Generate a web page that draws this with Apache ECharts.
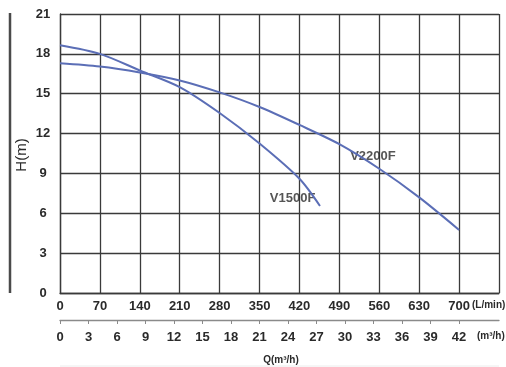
<!DOCTYPE html>
<html>
<head>
<meta charset="utf-8">
<script src="https://cdn.jsdelivr.net/npm/echarts@6/dist/echarts.min.js"></script>
<style>
html,body{margin:0;padding:0;background:#fff;}
#c{width:506px;height:367px;}
</style>
</head>
<body>
<div id="c"></div>
<script>
// Flow in L/min, head in m
const v1500fFlow = [0, 70, 140, 210, 280, 350, 420, 456];
const v1500fHead = [18.65, 18.0, 16.75, 15.5, 13.55, 11.25, 8.6, 6.55];
const v2200fFlow = [0, 70, 140, 210, 280, 350, 420, 490, 560, 630, 700];
const v2200fHead = [17.3, 17.05, 16.6, 16.0, 15.1, 14.0, 12.65, 11.2, 9.35, 7.2, 4.75];
const flowTicksLmin = [0, 70, 140, 210, 280, 350, 420, 490, 560, 630, 700];
const flowTicksM3h = [0, 3, 6, 9, 12, 15, 18, 21, 24, 27, 30, 33, 36, 39, 42];
const headTicks = [0, 3, 6, 9, 12, 15, 18, 21];
const curveNames = ['V1500F', 'V2200F'];
const curveLabelPos = [[368, 7.15], [509, 10.3]];

const lminMax = 770;
const m3hMax = lminMax * 60 / 1000;

const pair = (xs, ys) => xs.map((x, i) => [x, ys[i]]);
const lineColor = '#5b6eb6';
const txt = '#2a2a2a';
const font = 'Liberation Sans, Arial, sans-serif';

const chart = echarts.init(document.getElementById('c'), null, {renderer: 'canvas'});
chart.setOption({
  animation: false,
  backgroundColor: '#fff',
  grid: {left: 60, right: 7, top: 14, bottom: 74, containLabel: false},
  xAxis: [{
    type: 'value', min: 0, max: lminMax, interval: 70,
    axisLine: {show: true, lineStyle: {color: '#3a3a3a', width: 1.3}},
    axisTick: {show: false},
    splitLine: {show: true, lineStyle: {color: '#3a3a3a', width: 1.3}},
    axisLabel: {
      margin: 7, color: txt, fontSize: 13, fontWeight: 'bold', fontFamily: font,
      customValues: flowTicksLmin
    }
  }, {
    type: 'value', position: 'bottom', offset: 27, min: 0, max: m3hMax,
    axisLine: {show: true, lineStyle: {color: '#8a8a8a', width: 1.3}},
    axisTick: {show: true, length: 4, inside: false, lineStyle: {color: '#8a8a8a'}, customValues: flowTicksM3h},
    splitLine: {show: false},
    axisLabel: {
      margin: 11, color: txt, fontSize: 13, fontWeight: 'bold', fontFamily: font,
      customValues: flowTicksM3h
    }
  }],
  yAxis: {
    type: 'value', min: 0, max: 21, interval: 3,
    axisLine: {show: true, lineStyle: {color: '#3a3a3a', width: 1.3}},
    axisTick: {show: false},
    splitLine: {show: true, lineStyle: {color: '#3a3a3a', width: 1.3}},
    axisLabel: {
      margin: 17, align: 'center', color: txt, fontSize: 13, fontWeight: 'bold', fontFamily: font,
      customValues: headTicks
    }
  },
  series: [{
    name: curveNames[0], type: 'line', smooth: 0.3, showSymbol: false,
    xAxisIndex: 0,
    lineStyle: {color: lineColor, width: 2},
    data: pair(v1500fFlow, v1500fHead)
  }, {
    name: curveNames[1], type: 'line', smooth: 0.3, showSymbol: false,
    xAxisIndex: 0,
    lineStyle: {color: lineColor, width: 2},
    data: pair(v2200fFlow, v2200fHead)
  }, {
    type: 'scatter', xAxisIndex: 0, symbolSize: 0, silent: true,
    data: curveLabelPos.map((p, i) => ({value: p, name: curveNames[i]})),
    label: {
      show: true, position: 'right', distance: 0, formatter: '{b}',
      color: txt, fontSize: 13, fontWeight: 'bold', fontFamily: font
    }
  }],
  graphic: [
    {type: 'line', shape: {x1: 10, y1: 13, x2: 10, y2: 293}, style: {stroke: '#4a4a4a', lineWidth: 2.5}},
    {type: 'text', x: 22, y: 155, rotation: Math.PI / 2,
      style: {text: 'H(m)', font: '15px ' + font, fill: txt, align: 'center', verticalAlign: 'middle'}},
    {type: 'text', x: 472, y: 305,
      style: {text: '(L/min)', font: 'bold 10px ' + font, fill: txt, align: 'left', verticalAlign: 'middle'}},
    {type: 'text', x: 477, y: 336,
      style: {text: '(m³/h)', font: 'bold 10px ' + font, fill: txt, align: 'left', verticalAlign: 'middle'}},
    {type: 'text', x: 281, y: 360,
      style: {text: 'Q(m³/h)', font: 'bold 10px ' + font, fill: txt, align: 'center', verticalAlign: 'middle'}},
    {type: 'line', shape: {x1: 60, y1: 366, x2: 499, y2: 366}, style: {stroke: '#ececec', lineWidth: 1}}
  ]
});
</script>
</body>
</html>
